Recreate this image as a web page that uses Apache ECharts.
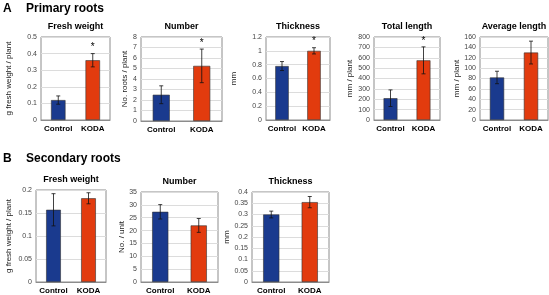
<!DOCTYPE html>
<html>
<head>
<meta charset="utf-8">
<script src="https://cdn.jsdelivr.net/npm/echarts@6/dist/echarts.min.js"></script>
<style>
  html, body { margin: 0; padding: 0; background: #fff; }
  #chart { width: 549px; height: 295px; }
</style>
</head>
<body>
<div id="chart"></div>
<script>
// data
var categories = ['Control', 'KODA'];
var panelTitles = ['Fresh weight', 'Number', 'Thickness', 'Total length', 'Average length',
                   'Fresh weight', 'Number', 'Thickness'];
var yNames = ['g fresh weight / plant', 'No. roots / plant', 'mm', 'mm / plant', 'mm / plant',
              'g fresh weight / plant', 'No. / unit', 'mm'];
var yMax = [0.5, 8, 1.2, 800, 160, 0.2, 35, 0.4];
var yStep = [0.1, 1, 0.2, 100, 20, 0.05, 5, 0.05];
var means = [[0.12, 0.36], [2.5, 5.25], [0.78, 1.0], [210, 575], [82, 130],
             [0.157, 0.182], [27.3, 22], [0.30, 0.355]];
var errs = [[0.025, 0.04], [0.85, 1.6], [0.065, 0.045], [80, 130], [12, 22],
            [0.035, 0.012], [2.8, 2.7], [0.015, 0.025]];
var stars = [[0, 1], [0, 1], [0, 1], [0, 1], [0, 0], [0, 0], [0, 0], [0, 0]];

// layout: left, top, width, height of each plot box
var boxes = [[41, 37, 69, 83], [141, 37, 81, 84], [266, 37, 64, 83], [374, 37, 66, 83], [480, 37, 68, 83],
             [36, 190, 70, 92], [141, 192, 77, 90], [252, 192, 77, 90]];
var nameGaps = [28, 11, 28, 20, 17, 23, 14, 15];
var colors = ['#1a3a8e', '#e23b0e'];
var font = 'Liberation Sans, Arial, sans-serif';

var grids = [], xAxes = [], yAxes = [], series = [];
function head(text, x, y) {
  return { text: text, left: x, top: y, padding: 0,
           textStyle: { fontSize: 12, fontWeight: 'bold', fontFamily: font, color: '#000' } };
}
var titles = [head('A', 3, 3), head('Primary roots', 26, 3), head('B', 3, 153), head('Secondary roots', 26, 153)];

boxes.forEach(function (b, i) {
  grids.push({ left: b[0], top: b[1], width: b[2], height: b[3], show: true,
               borderColor: '#8c8c8c', borderWidth: 1, backgroundColor: '#fff' });
  titles.push({ text: panelTitles[i], left: b[0] + b[2] / 2, top: b[1] - 15, textAlign: 'center', padding: 0,
                textStyle: { fontSize: 9, fontWeight: 'bold', fontFamily: font, color: '#000' } });
  xAxes.push({ type: 'category', gridIndex: i, data: categories,
               axisLine: { lineStyle: { color: '#8c8c8c' } }, axisTick: { show: false },
               axisLabel: { interval: 0, fontSize: 8, fontWeight: 'bold', fontFamily: font, color: '#000', margin: 5 } });
  yAxes.push({ type: 'value', gridIndex: i, min: 0, max: yMax[i], interval: yStep[i],
               name: yNames[i], nameLocation: 'middle', nameGap: nameGaps[i],
               nameTextStyle: { fontSize: 8, fontFamily: font, color: '#222' },
               axisLine: { show: false }, axisTick: { show: false },
               axisLabel: { fontSize: 7, fontFamily: font, color: '#444', margin: 4 },
               splitLine: { lineStyle: { color: '#dcdcdc' } } });
  series.push({
    type: 'bar', xAxisIndex: i, yAxisIndex: i, barWidth: '42%',
    data: means[i].map(function (v, k) {
      return { value: v, itemStyle: { color: colors[k], borderColor: '#333', borderWidth: 0.6 } };
    })
  });
  series.push({
    type: 'custom', xAxisIndex: i, yAxisIndex: i, z: 5,
    data: means[i].map(function (v, k) { return [k, v - errs[i][k], v + errs[i][k], stars[i][k]]; }),
    renderItem: function (params, api) {
      var lo = api.coord([api.value(0), api.value(1)]);
      var hi = api.coord([api.value(0), api.value(2)]);
      var w = 2;
      var style = { stroke: '#111', lineWidth: 0.8 };
      var children = [
        { type: 'line', shape: { x1: hi[0], y1: hi[1], x2: lo[0], y2: lo[1] }, style: style },
        { type: 'line', shape: { x1: hi[0] - w, y1: hi[1], x2: hi[0] + w, y2: hi[1] }, style: style },
        { type: 'line', shape: { x1: lo[0] - w, y1: lo[1], x2: lo[0] + w, y2: lo[1] }, style: style }
      ];
      if (api.value(3)) {
        children.push({ type: 'text', x: hi[0], y: hi[1] - 1,
          style: { text: '*', fontSize: 10, fontFamily: font, fill: '#000', align: 'center', verticalAlign: 'bottom' } });
      }
      return { type: 'group', children: children };
    }
  });
});

var chart = echarts.init(document.getElementById('chart'));
chart.setOption({
  animation: false,
  backgroundColor: '#fff',
  title: titles,
  grid: grids,
  xAxis: xAxes,
  yAxis: yAxes,
  series: series
});
</script>
</body>
</html>
